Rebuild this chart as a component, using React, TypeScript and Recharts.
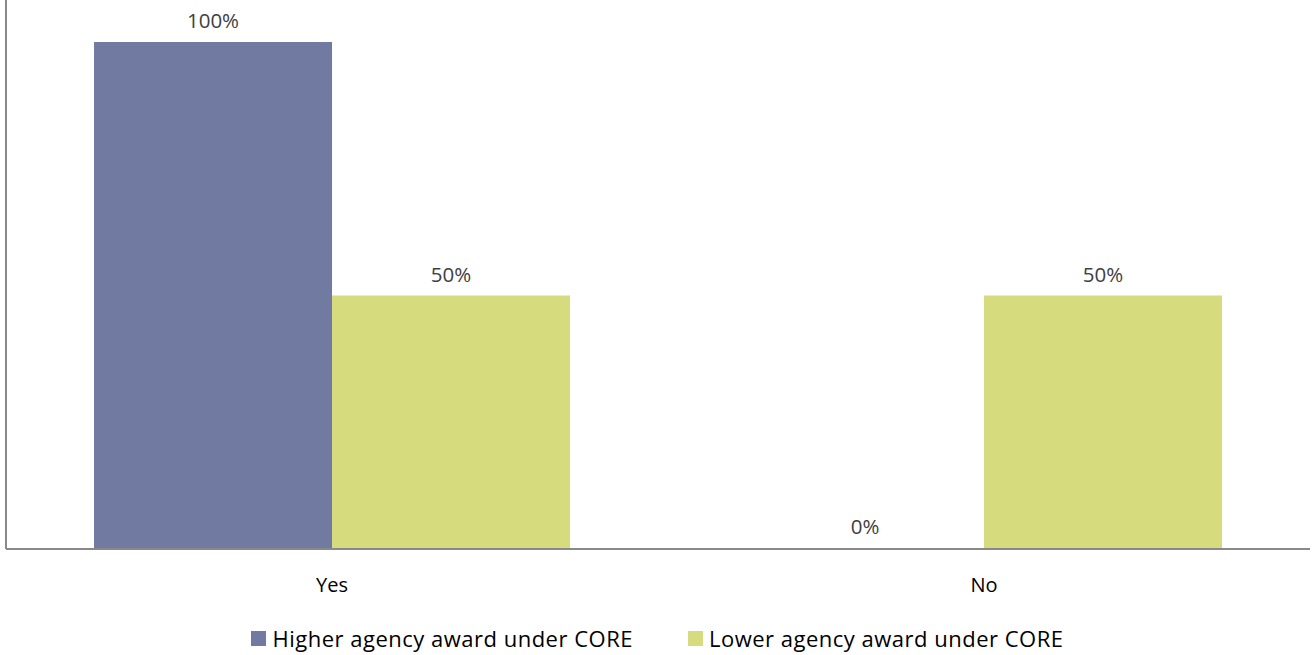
import React from "react";
import { BarChart, Bar, XAxis, YAxis, LabelList, Legend, Rectangle } from "recharts";

const categories = ["Yes", "No"];
const higherAgency = [1.0, 0.0];
const lowerAgency = [0.5, 0.5];

const seriesKeys = ["higher", "lower"];
const seriesNames = ["Higher agency award under CORE", "Lower agency award under CORE"];
const seriesColors = ["#717BA2", "#D6DB7E"];

const data = categories.map((name, i) => ({
  name,
  higher: higherAgency[i],
  lower: lowerAgency[i],
}));

const FONT = "'Open Sans', sans-serif";
const pct = (v: any) => `${Math.round(Number(v) * 100)}%`;

// zero values still get a label, but no visible sliver of bar
const BarShape = (props: any) => {
  if (!props.value || Number(props.value) === 0 || (Array.isArray(props.value) && props.value[1] === 0)) return null;
  return <Rectangle {...props} />;
};

function LegendContent() {
  return (
    <div
      style={{
        height: 30,
        display: "flex",
        justifyContent: "center",
        alignItems: "center",
        gap: 55,
        fontFamily: FONT,
        fontSize: 22,
        letterSpacing: 0.5,
        color: "#000",
      }}
    >
      {seriesNames.map((n, i) => (
        <div key={n} style={{ display: "flex", alignItems: "center" }}>
          <span
            style={{
              display: "inline-block",
              width: 15,
              height: 15,
              background: seriesColors[i],
              marginRight: 6,
            }}
          />
          {n}
        </div>
      ))}
    </div>
  );
}

export default function App() {
  return (
    <div style={{ position: "absolute", left: 0, top: 0 }}>
      <BarChart
        width={1312}
        height={655}
        data={data}
        margin={{ top: 0, right: 2, bottom: 0, left: 5 }}
        barGap={0}
        barCategoryGap="13.5%"
      >
        <XAxis
          dataKey="name"
          axisLine={{ stroke: "#898989", strokeWidth: 2 }}
          tickLine={false}
          tickMargin={23}
          height={76}
          tick={{ fill: "#000", fontSize: 20, fontFamily: FONT }}
        />
        <YAxis
          width={1}
          domain={[0, 1.083]}
          allowDataOverflow
          tick={false}
          tickLine={false}
          axisLine={{ stroke: "#898989", strokeWidth: 2 }}
        />
        <Legend verticalAlign="bottom" content={<LegendContent />} wrapperStyle={{ bottom: 2 }} />
        {seriesKeys.map((k, i) => (
          <Bar
            key={k}
            dataKey={k}
            fill={seriesColors[i]}
            minPointSize={1}
            shape={<BarShape />}
            isAnimationActive={false}
          >
            <LabelList
              dataKey={k}
              position="top"
              offset={14}
              formatter={pct}
              style={{ fill: "#404040", fontSize: 20.5, fontFamily: FONT }}
            />
          </Bar>
        ))}
      </BarChart>
    </div>
  );
}
